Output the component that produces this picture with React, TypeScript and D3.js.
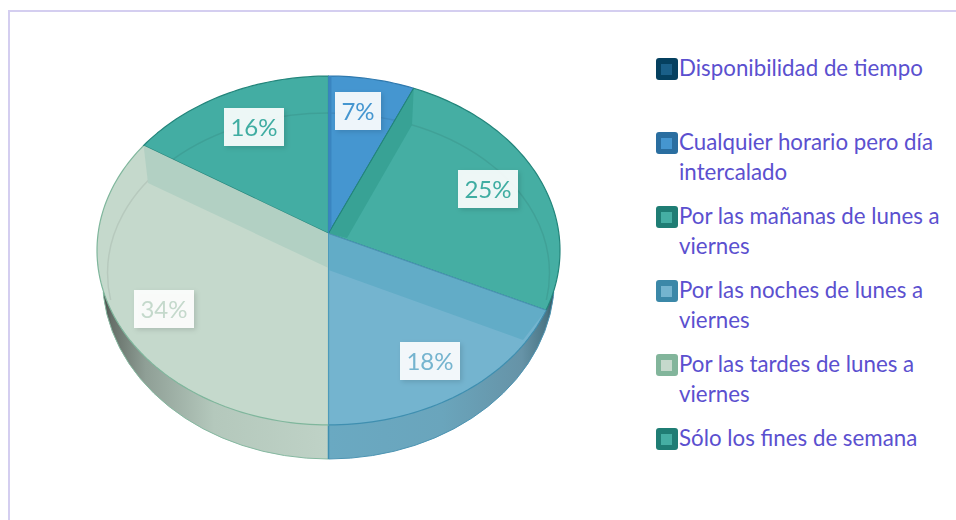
import React from "react";
import * as d3 from "d3";

const sliceNames = ["Cualquier horario pero día intercalado", "Por las mañanas de lunes a viernes", "Por las noches de lunes a viernes", "Por las tardes de lunes a viernes", "Sólo los fines de semana"];
const sliceValues = [6.6, 25.4, 18, 34, 16];
const sliceFaces = ["#4596d0", "#45aea3", "#74b4cf", "#c5d9cc", "#43ada3"];
const sliceEdges = ["#2f79ae", "#23857b", "#3f8fb0", "#7fb69c", "#23857b"];
const labelTexts = ["#4596d0", "#3fada2", "#74b4cf", "#c5d9cc", "#3fada2"];
const labelBoxes = [[335, 92], [458, 170], [400, 342], [134, 290], [224, 108]];
const legendLines = [["Disponibilidad de tiempo"], ["Cualquier horario pero día", "intercalado"], ["Por las mañanas de lunes a", "viernes"], ["Por las noches de lunes a", "viernes"], ["Por las tardes de lunes a", "viernes"], ["Sólo los fines de semana"]];
const legendOuter = ["#05405f", "#2a6ea0", "#1f7d74", "#3b88a8", "#82b59b", "#1f7d74"];
const legendInner = ["#1a5f88", "#4596d0", "#45aea3", "#74b4cf", "#c5d9cc", "#45aea3"];
const legendY = [69, 143, 217, 291, 365, 439];

const cx = 328.5, cy = 233.5, A = 230.4, B = 172.8, persp = 0.0974;
const proj = (t: number, r = 1): [number, number] => {
  const u = Math.sin(t) * r, v = Math.cos(t) * r, w = 1 + persp * v;
  return [cx + (A * u) / w, cy - (B * v) / w];
};
const line = d3.line();
const arcs = d3.pie<number>().sort(null)(sliceValues);
const wedge = (a0: number, a1: number) => {
  const n = Math.max(2, Math.ceil((a1 - a0) * 40));
  const pts: [number, number][] = [[cx, cy]];
  d3.range(n + 1).forEach((i) => pts.push(proj(a0 + ((a1 - a0) * i) / n)));
  return line(pts) + "Z";
};
const FONT = "Lato, Carlito, sans-serif";
const boxW = 60, boxH = 38;

export default function App() {
  return (
    <svg width={956} height={520} style={{ position: "absolute", left: 0, top: 0, background: "#fff" }}>
      <defs>
        <linearGradient id="wallG" gradientUnits="userSpaceOnUse" x1={100} x2={328} y1={0} y2={0}>
          <stop offset="0" stopColor="#3a3f3c" />
          <stop offset="0.05" stopColor="#667069" />
          <stop offset="0.2" stopColor="#8f9f96" />
          <stop offset="0.5" stopColor="#b4c8bc" />
          <stop offset="1" stopColor="#bfd2c6" />
        </linearGradient>
        <linearGradient id="wallB" gradientUnits="userSpaceOnUse" x1={328} x2={556} y1={0} y2={0}>
          <stop offset="0" stopColor="#6aa9c2" />
          <stop offset="0.5" stopColor="#6aa5bc" />
          <stop offset="0.85" stopColor="#6693a7" />
          <stop offset="0.96" stopColor="#4a7585" />
          <stop offset="1" stopColor="#2a4a55" />
        </linearGradient>
        <clipPath id="leftC"><rect x={90} y={292} width={238.5} height={180} /></clipPath>
        <clipPath id="rightC"><rect x={328.5} y={292} width={235} height={180} /></clipPath>
        <clipPath id="topC"><ellipse cx={328.5} cy={250.5} rx={231.5} ry={174.5} /></clipPath>
        <clipPath id="arcC"><rect x={90} y={60} width={480} height={240} /></clipPath>
        <filter id="boxS" x="-20%" y="-20%" width="150%" height="150%">
          <feDropShadow dx="2" dy="2" stdDeviation="2.5" floodColor="#000" floodOpacity="0.14" />
        </filter>
      </defs>

      <path d="M9 520V11H956" fill="none" stroke="#d4cef0" strokeWidth={2} />

      <ellipse cx={328.5} cy={279} rx={226} ry={180} fill="url(#wallG)" stroke="#85b8a0" strokeWidth={1} clipPath="url(#leftC)" />
      <ellipse cx={328.5} cy={279} rx={226} ry={180} fill="url(#wallB)" stroke="#4d94b2" strokeWidth={1} clipPath="url(#rightC)" />
      <line x1={328.5} x2={328.5} y1={425} y2={459} stroke="#3f8fb0" strokeWidth={1.5} />

      {arcs.map((a, i) => (
        <path key={i} d={wedge(a.startAngle, a.endAngle)} fill={sliceFaces[i]} stroke={sliceEdges[i]} strokeWidth={1.2} strokeLinejoin="round" />
      ))}

      <g clipPath="url(#topC)">
        <g clipPath="url(#arcC)">
          <ellipse cx={328.5} cy={273} rx={221} ry={160} fill="none" stroke="#000" strokeOpacity={0.07} strokeWidth={1.5} />
        </g>
        <path d={`M${proj(arcs[1].startAngle)}L${[412, 125]}L${[347, 238]}L${[cx, cy]}Z`} fill="#38a295" />
        <path d={`M${[cx, cy]}L${proj(arcs[2].startAngle)}L${[523, 340]}L${[cx, 270]}Z`} fill="#62acc7" />
        <path d={`M${proj(arcs[3].endAngle)}L${[cx, cy]}L${[cx, 268]}L${[148, 183]}Z`} fill="#b2d0c3" />
        <path d={`M${cx} ${cy}L${cx} 76L${cx + 3} 76L${cx + 3} ${cy - 5}Z`} fill="#3a85c0" />
        <path d={`M${proj(arcs[1].startAngle)}L${[cx, cy]}`} stroke="#23857b" strokeWidth={1} fill="none" />
        <path d={`M${[cx, cy]}L${proj(arcs[2].startAngle)}`} stroke="#4d94b2" strokeWidth={1} fill="none" />
      </g>
      <line x1={cx} x2={cx} y1={76} y2={cy} stroke="#3a85c0" strokeWidth={1} strokeOpacity={0.8} />
      <line x1={cx} x2={cx} y1={cy} y2={425} stroke="#4d9abb" strokeWidth={1} />

      {sliceNames.map((name, i) => (
        <g key={name} filter="url(#boxS)">
          <rect x={labelBoxes[i][0]} y={labelBoxes[i][1]} width={boxW - (i === 0 ? 14 : 0)} height={boxH} fill="#fff" fillOpacity={0.9} />
          <text x={labelBoxes[i][0] + (boxW - (i === 0 ? 14 : 0)) / 2} y={labelBoxes[i][1] + 28} textAnchor="middle" fontFamily={FONT} fontSize={24} fill={labelTexts[i]}>
            {Math.round(sliceValues[i])}%
          </text>
        </g>
      ))}

      {legendLines.map((lines, i) => (
        <g key={i}>
          <rect x={656} y={legendY[i] - 11} width={22} height={22} rx={3} fill={legendOuter[i]} />
          <rect x={661} y={legendY[i] - 5} width={11} height={11} fill={legendInner[i]} />
          {lines.map((t, j) => (
            <text key={j} x={679} y={legendY[i] + 7 + j * 29.5} fontFamily={FONT} fontSize={22.3} fill="#5b50cf">{t}</text>
          ))}
        </g>
      ))}
    </svg>
  );
}
